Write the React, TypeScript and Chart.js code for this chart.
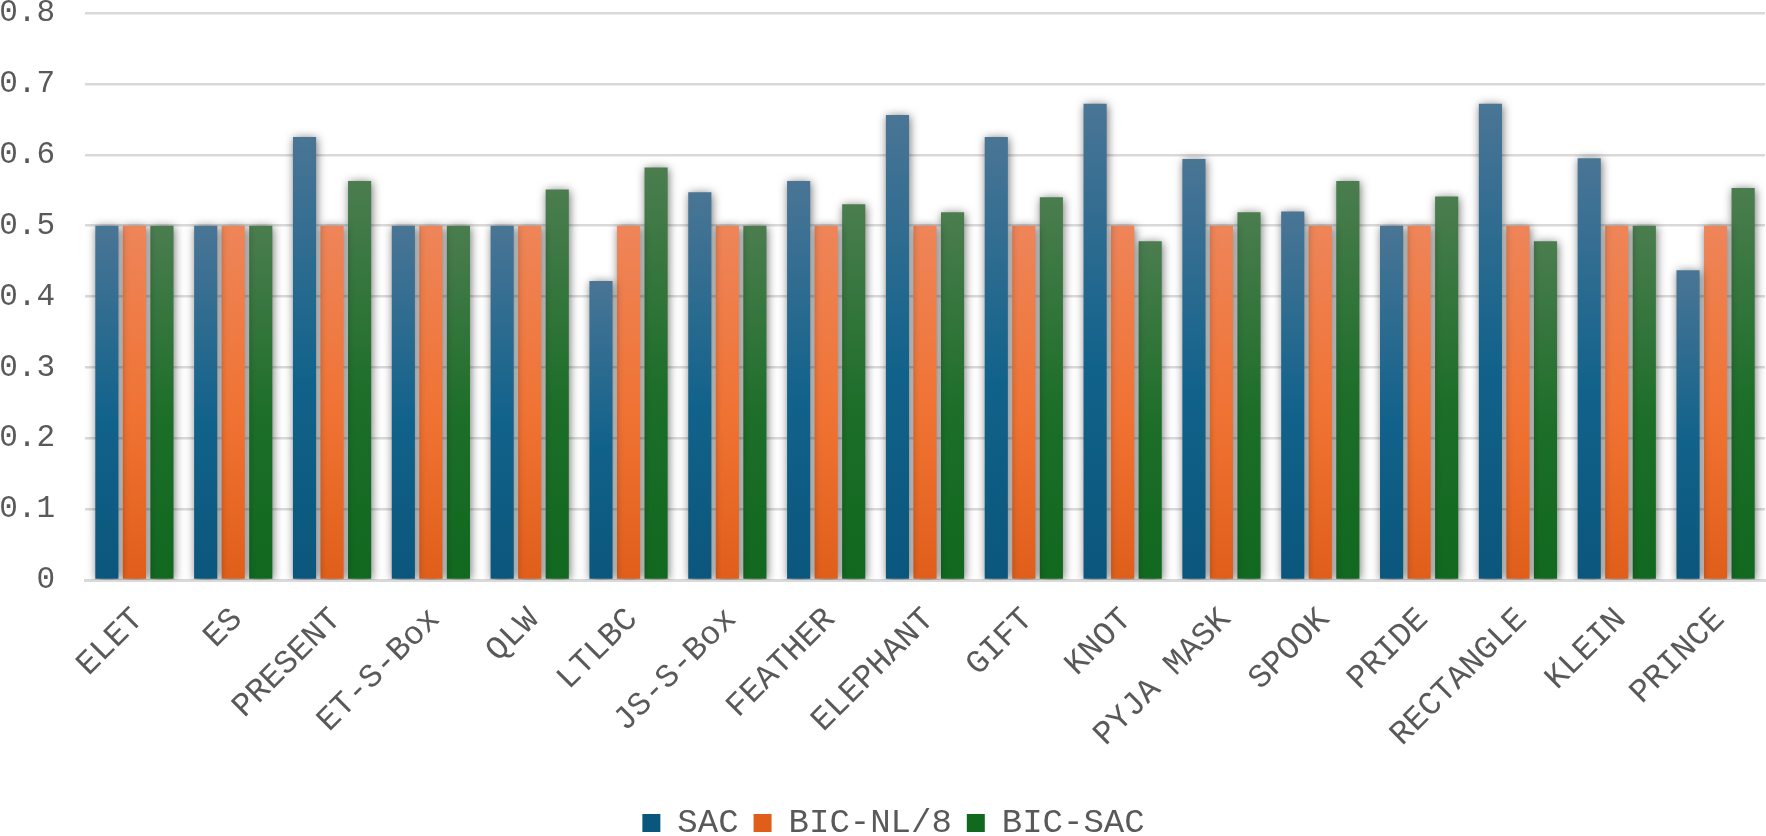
import React, { useEffect, useRef } from "react";
import { Chart, registerables } from "chart.js";

Chart.register(...registerables);

const categories = [
  "ELET", "ES", "PRESENT", "ET-S-Box", "QLW", "LTLBC", "JS-S-Box", "FEATHER",
  "ELEPHANT", "GIFT", "KNOT", "PYJA MASK", "SPOOK", "PRIDE", "RECTANGLE", "KLEIN", "PRINCE",
];
const sacValues = [0.5, 0.5, 0.625, 0.5, 0.5, 0.422, 0.547, 0.563, 0.656, 0.625, 0.672, 0.594, 0.52, 0.5, 0.672, 0.595, 0.437];
const bicNlValues = [0.5, 0.5, 0.5, 0.5, 0.5, 0.5, 0.5, 0.5, 0.5, 0.5, 0.5, 0.5, 0.5, 0.5, 0.5, 0.5, 0.5];
const bicSacValues = [0.5, 0.5, 0.563, 0.5, 0.551, 0.582, 0.5, 0.53, 0.519, 0.54, 0.478, 0.519, 0.563, 0.541, 0.478, 0.5, 0.553];
const yTickLabels = ["0", "0.1", "0.2", "0.3", "0.4", "0.5", "0.6", "0.7", "0.8"];

const FONT = "'Liberation Mono', 'Courier New', monospace";

function gradientFor(light: string, base: string, dark: string) {
  return (c: any) => {
    const chart = c.chart;
    if (!chart.chartArea || c.type !== "data" || !chart.scales.y) return base;
    const ys = chart.scales.y;
    const top = ys.getPixelForValue(c.raw);
    const bottom = ys.getPixelForValue(0);
    const g = chart.ctx.createLinearGradient(0, top, 0, bottom);
    g.addColorStop(0, light);
    g.addColorStop(0.55, base);
    g.addColorStop(1, dark);
    return g;
  };
}

const shadowPlugin = {
  id: "barShadow",
  beforeDatasetsDraw(chart: any) {
    const ctx = chart.ctx;
    ctx.save();
    ctx.shadowColor = "rgba(0,0,0,0.55)";
    ctx.shadowBlur = 10;
    ctx.shadowOffsetX = 1;
    ctx.shadowOffsetY = 1;
  },
  afterDatasetsDraw(chart: any) {
    chart.ctx.restore();
  },
};

const legendShiftPlugin = {
  id: "legendShift",
  afterLayout(chart: any) {
    const lg = chart.legend;
    if (lg) {
      lg.left += 11;
      lg.right += 11;
    }
  },
};

export default function App() {
  const ref = useRef<HTMLCanvasElement | null>(null);

  useEffect(() => {
    document.body.style.margin = "0";
    const canvas = ref.current;
    if (!canvas) return;
    const chart = new Chart(canvas, {
      type: "bar",
      data: {
        labels: categories,
        datasets: [
          {
            label: "SAC",
            data: sacValues,
            backgroundColor: gradientFor("#4a7595", "#11628b", "#0b567c"),
          },
          {
            label: "BIC-NL/8",
            data: bicNlValues,
            backgroundColor: gradientFor("#ee8559", "#f07232", "#e05e1a"),
          },
          {
            label: "BIC-SAC",
            data: bicSacValues,
            backgroundColor: gradientFor("#4b7d4f", "#1c6e28", "#11681f"),
          },
        ],
      },
      options: {
        animation: false,
        responsive: false,
        maintainAspectRatio: false,
        layout: { padding: { top: 13, right: 1, left: 0, bottom: -14 } },
        datasets: {
          bar: { categoryPercentage: 0.836, barPercentage: 0.84 },
        },
        scales: {
          x: {
            grid: { display: false, drawTicks: false },
            border: { display: true, color: "#d9d9d9", width: 3 },
            ticks: {
              color: "#595959",
              font: { family: FONT, size: 33 },
              minRotation: 45,
              maxRotation: 45,
              padding: 20,
              labelOffset: 4,
              autoSkip: false,
            },
            afterFit: (scale: any) => {
              scale.height = 211;
              scale.paddingLeft = 0;
              scale.paddingRight = 0;
            },
          },
          y: {
            min: 0,
            max: 0.8,
            grid: { color: "#d9d9d9", lineWidth: 2.5, drawTicks: false },
            border: { display: false },
            ticks: {
              stepSize: 0.1,
              color: "#595959",
              font: { family: FONT, size: 31 },
              padding: 30,
              callback: (_v: any, i: number) => yTickLabels[i],
            },
            afterFit: (scale: any) => {
              scale.width = 85;
              scale.paddingTop = 0;
              scale.paddingBottom = 0;
            },
          },
        },
        plugins: {
          legend: {
            position: "bottom",
            labels: {
              color: "#595959",
              font: { family: FONT, size: 34 },
              boxWidth: 18,
              boxHeight: 18,
              padding: 15,
            },
          },
          tooltip: { enabled: false },
        },
      },
      plugins: [shadowPlugin, legendShiftPlugin],
    });
    return () => chart.destroy();
  }, []);

  return (
    <div style={{ width: 1766, height: 836 }}>
      <canvas ref={ref} width={1766} height={836} style={{ display: "block" }} />
    </div>
  );
}
